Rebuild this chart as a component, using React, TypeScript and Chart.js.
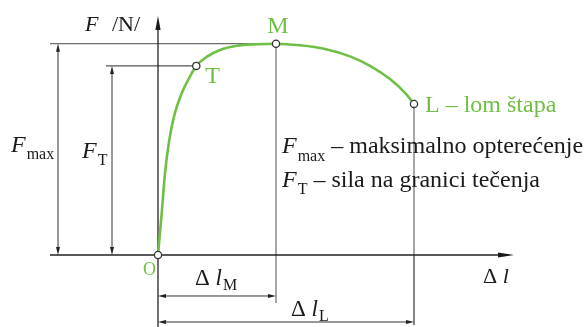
import React, { useEffect, useRef } from "react";
import { Chart, registerables } from "chart.js";

Chart.register(...registerables);

// Tensile test curve: elongation Δl (mm) against force F (N)
const elongation = [0, 0.37, 0.7, 1.13, 1.6, 2.37, 3.2, 3.83, 4.87, 6.2, 7.87, 9.87, 11.8, 14.2, 16.7, 19.2, 21.2, 23.2, 24.7, 25.6];
const force = [0, 79, 155, 218, 262, 306, 338, 358, 375, 388, 396, 399, 400, 397, 390, 376, 358, 333, 307, 286];

// Characteristic points: O (origin), T (yield), M (maximum), L (fracture)
const pointNames = ["O", "T", "M", "L"];
const pointIndex = [0, 7, 12, 19];

const fMax = force[12];
const fT = force[7];
const dlM = elongation[12];
const dlL = elongation[19];

const GREEN = "#6fbf44";
const SERIF = '"Liberation Serif", "Times New Roman", serif';

function arrowHead(ctx: CanvasRenderingContext2D, x: number, y: number, dx: number, dy: number, len: number, half: number) {
  const nx = -dy, ny = dx;
  ctx.beginPath();
  ctx.moveTo(x, y);
  ctx.lineTo(x - dx * len + nx * half, y - dy * len + ny * half);
  ctx.lineTo(x - dx * len - nx * half, y - dy * len - ny * half);
  ctx.closePath();
  ctx.fill();
}

function line(ctx: CanvasRenderingContext2D, x1: number, y1: number, x2: number, y2: number, color: string, w: number) {
  ctx.strokeStyle = color;
  ctx.lineWidth = w;
  ctx.beginPath();
  ctx.moveTo(x1, y1);
  ctx.lineTo(x2, y2);
  ctx.stroke();
}

function text(ctx: CanvasRenderingContext2D, s: string, x: number, y: number, size: number, color = "#1a1a1a", italic = false) {
  ctx.font = `${italic ? "italic " : ""}${size}px ${SERIF}`;
  ctx.fillStyle = color;
  ctx.fillText(s, x, y);
  return ctx.measureText(s).width;
}

const diagramPlugin = {
  id: "diagram",
  beforeDatasetsDraw(chart: any) {
    const ctx: CanvasRenderingContext2D = chart.ctx;
    const xs = chart.scales.x, ys = chart.scales.y;
    const ox = xs.getPixelForValue(0), oy = ys.getPixelForValue(0);
    const mx = xs.getPixelForValue(dlM), lx = xs.getPixelForValue(dlL);
    const yMax = ys.getPixelForValue(fMax), yT = ys.getPixelForValue(fT);
    const yL = ys.getPixelForValue(force[19]);
    const tx = xs.getPixelForValue(elongation[7]);
    ctx.save();

    // reference lines for F_max and F_T
    line(ctx, ox - 108, yMax, mx, yMax, "#6e6e6e", 1.3);
    line(ctx, ox - 52, yT, tx, yT, "#555", 1.1);

    // vertical lines through M and L
    line(ctx, mx, yMax, mx, oy + 48, "#8a8a8a", 1.5);
    line(ctx, lx, yL, lx, oy, "#8a8a8a", 1.5);
    line(ctx, lx, oy, lx, oy + 70, "#222", 1.1);

    // axes
    ctx.fillStyle = "#1a1a1a";
    line(ctx, ox - 108, oy, ox + 350, oy, "#222", 1.3);
    arrowHead(ctx, ox + 356, oy, 1, 0, 16, 2.6);
    line(ctx, ox, chart.height, ox, 24, "#222", 1.3);
    arrowHead(ctx, ox, 16, 0, -1, 14, 2.6);

    // dimension arrows
    ctx.fillStyle = "#222";
    const vDim = (x: number, yTop: number) => {
      line(ctx, x, yTop + 6, x, oy - 6, "#333", 1);
      arrowHead(ctx, x, yTop, 0, -1, 8, 2);
      arrowHead(ctx, x, oy, 0, 1, 8, 2);
    };
    vDim(ox - 100, yMax);
    vDim(ox - 46, yT);
    const hDim = (y: number, x2: number) => {
      line(ctx, ox + 6, y, x2 - 6, y, "#333", 1);
      arrowHead(ctx, ox, y, -1, 0, 8, 2);
      arrowHead(ctx, x2, y, 1, 0, 8, 2);
    };
    hDim(oy + 41, mx);
    hDim(oy + 67, lx);
    ctx.restore();
  },
  afterDatasetsDraw(chart: any) {
    const ctx: CanvasRenderingContext2D = chart.ctx;
    const xs = chart.scales.x, ys = chart.scales.y;
    const ox = xs.getPixelForValue(0), oy = ys.getPixelForValue(0);
    ctx.save();
    ctx.textBaseline = "alphabetic";

    // axis titles
    text(ctx, "F", 85, 31, 22, "#1a1a1a", true);
    text(ctx, "/N/", 112, 31, 22);
    let w = text(ctx, "Δ ", 483, 283, 22);
    text(ctx, "l", 483 + w, 283, 22, "#1a1a1a", true);

    // point labels
    const px = (i: number) => xs.getPixelForValue(elongation[pointIndex[i]]);
    const py = (i: number) => ys.getPixelForValue(force[pointIndex[i]]);
    ctx.textAlign = "center";
    text(ctx, pointNames[2], px(2) + 2, py(2) - 11, 24, GREEN);
    ctx.textAlign = "left";
    text(ctx, pointNames[1], px(1) + 9, py(1) + 17, 24, GREEN);
    text(ctx, pointNames[3] + " – lom štapa", px(3) + 11, py(3) + 8, 24, GREEN);
    text(ctx, pointNames[0], ox - 15, oy + 20, 18, GREEN);

    // dimension labels
    w = text(ctx, "F", 11, 152, 24, "#1a1a1a", true);
    text(ctx, "max", 11 + w + 1, 159, 16);
    w = text(ctx, "F", 82, 158, 24, "#1a1a1a", true);
    text(ctx, "T", 82 + w + 1, 165, 16);

    w = text(ctx, "Δ ", 195, 285, 23);
    let w2 = text(ctx, "l", 195 + w, 285, 23, "#1a1a1a", true);
    text(ctx, "M", 195 + w + w2 + 1, 290, 16);
    w = text(ctx, "Δ ", 291, 316, 23);
    w2 = text(ctx, "l", 291 + w, 316, 23, "#1a1a1a", true);
    text(ctx, "L", 291 + w + w2 + 1, 321, 16);

    // legend
    w = text(ctx, "F", 282, 153, 24, "#1a1a1a", true);
    w2 = text(ctx, "max", 282 + w + 1, 161, 16);
    text(ctx, " – maksimalno opterećenje", 282 + w + w2 + 1, 153, 24);
    w = text(ctx, "F", 282, 187, 24, "#1a1a1a", true);
    w2 = text(ctx, "T", 282 + w + 1, 194, 16);
    text(ctx, " – sila na granici tečenja", 282 + w + w2 + 1, 187, 24);
    ctx.restore();
  },
};

export default function App() {
  const canvasRef = useRef<HTMLCanvasElement>(null);

  useEffect(() => {
    const canvas = canvasRef.current;
    if (!canvas) return;
    const curve = elongation.map((x, i) => ({ x, y: force[i] }));
    const marks = pointIndex.map((i) => ({ x: elongation[i], y: force[i] }));
    const chart = new Chart(canvas, {
      type: "line",
      data: {
        datasets: [
          {
            data: marks,
            showLine: false,
            pointRadius: 3.6,
            pointBackgroundColor: "#ffffff",
            pointBorderColor: "#333333",
            pointBorderWidth: 1.3,
          },
          {
            data: curve,
            borderColor: GREEN,
            borderWidth: 2.6,
            pointRadius: 0,
            cubicInterpolationMode: "monotone",
            fill: false,
          },
        ],
      },
      options: {
        responsive: false,
        animation: false,
        devicePixelRatio: 1,
        layout: { padding: 0, autoPadding: false },
        plugins: { legend: { display: false }, tooltip: { enabled: false } },
        scales: {
          x: { type: "linear", min: -15.8, max: 43, display: false },
          y: { type: "linear", min: -136.3, max: 482.7, display: false },
        },
      },
      plugins: [diagramPlugin],
    });
    return () => chart.destroy();
  }, []);

  return (
    <div style={{ position: "absolute", left: 0, top: 0, width: 588, height: 327, background: "#fff" }}>
      <canvas ref={canvasRef} width={588} height={327} />
    </div>
  );
}
